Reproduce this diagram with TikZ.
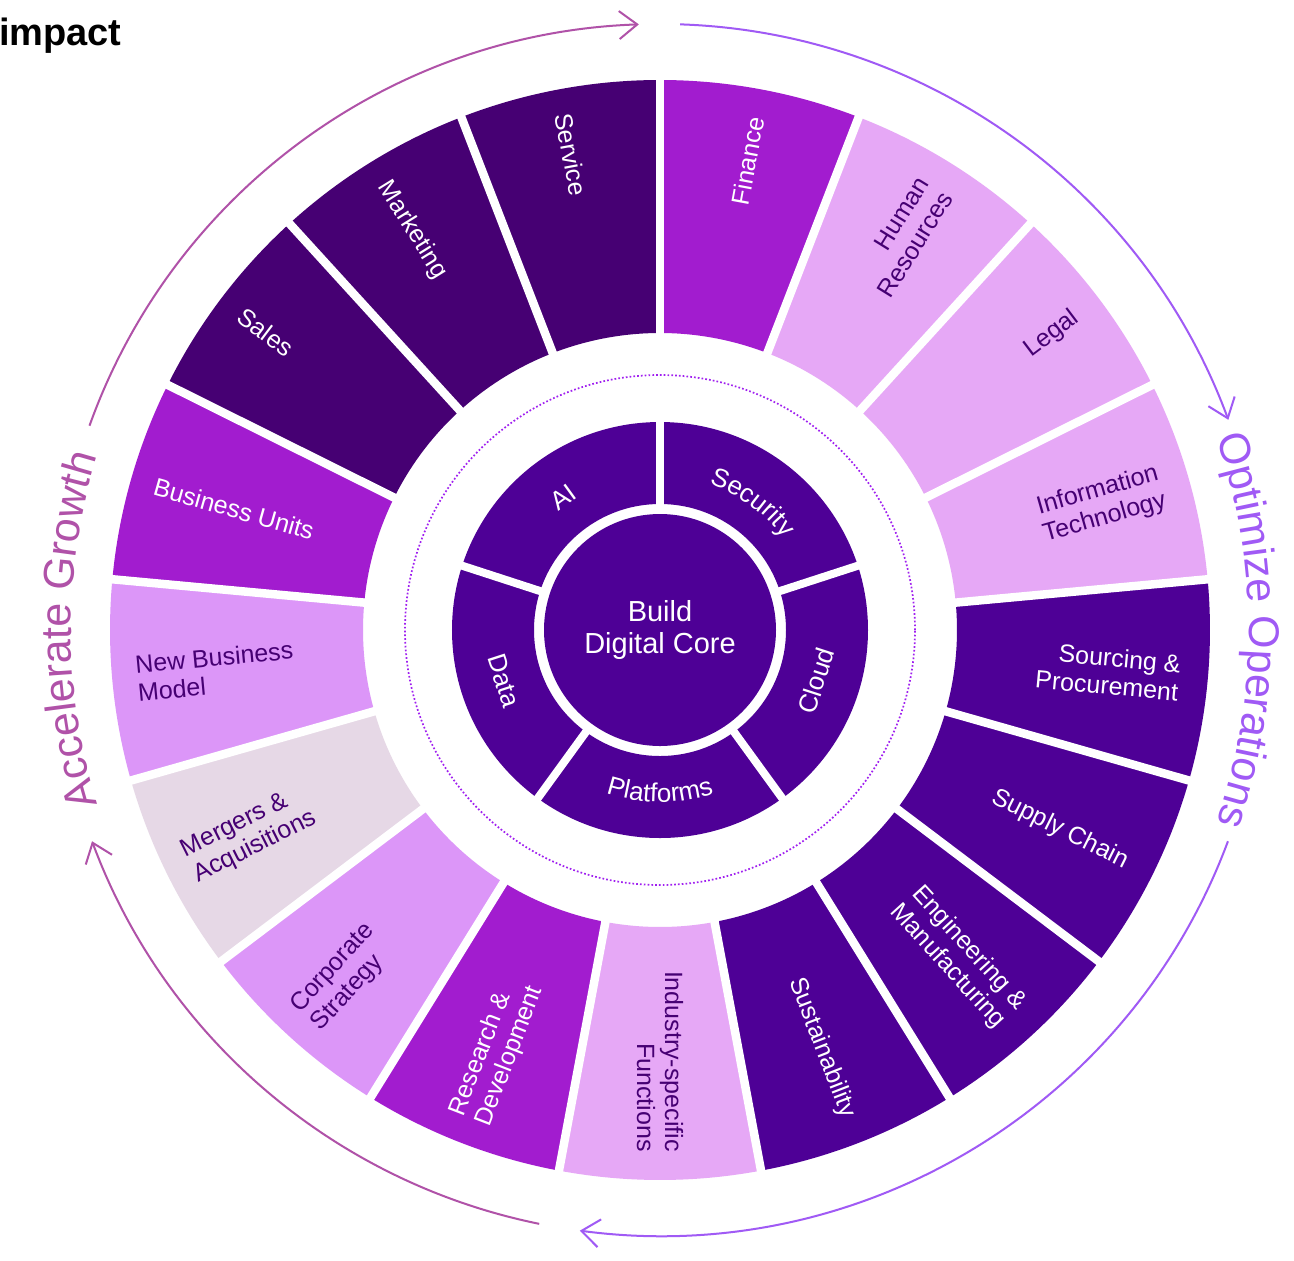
\documentclass[tikz,border=0pt]{standalone}
\usepackage{fontspec}
\setmainfont{Liberation Sans}
\usetikzlibrary{arrows.meta,decorations.text}

\definecolor{darkseg}{HTML}{460073}
\definecolor{magseg}{HTML}{A21CCF}
\definecolor{lightA}{HTML}{E6A8F6}
\definecolor{lightB}{HTML}{DC96F8}
\definecolor{greyseg}{HTML}{E6D8E6}
\definecolor{violetseg}{HTML}{4E0096}
\definecolor{txtdark}{HTML}{460073}
\definecolor{growthc}{HTML}{B052A8}
\definecolor{opsc}{HTML}{A05AF5}
\definecolor{dotc}{HTML}{A020F0}

\newcommand{\innerlblfont}{\fontsize{13}{15}\selectfont}
\newcommand{\titlelblfont}{\fontsize{21.5}{24}\selectfont}

\begin{document}
\begin{tikzpicture}[x=0.5pt,y=0.5pt,
  seglabel/.style={inner sep=0pt, font=\fontsize{12.5}{14}\selectfont},
  corelabel/.style={inner sep=0pt, text=white, font=\innerlblfont},
  divider/.style={white, line width=4.25pt},
  cyclearrow/.style={line width=1pt, -{Straight Barb[length=9pt,width=14pt]}},
]
\useasboundingbox (-660,-630) rectangle (634,630);
\fill[white] (-660,-630) rectangle (634,630);

% outer ring segments
\foreach \i/\fc in {0/magseg,1/lightA,2/lightA,3/lightA,4/violetseg,5/violetseg,6/violetseg,7/violetseg,8/lightA,9/magseg,10/lightB,11/greyseg,12/lightB,13/magseg,14/darkseg,15/darkseg,16/darkseg}{
  \pgfmathsetmacro\aone{90-\i*360/17}
  \pgfmathsetmacro\atwo{90-(\i+1)*360/17}
  \fill[\fc] (\aone:297) arc[start angle=\aone, end angle=\atwo, radius=297]
     -- (\atwo:550) arc[start angle=\atwo, end angle=\aone, radius=550] -- cycle;
}
\foreach \i in {0,...,16}{
  \pgfmathsetmacro\ad{90-\i*360/17}
  \draw[divider] (\ad:288) -- (\ad:560);
}

% outer labels
\foreach \i/\tc/\lab in {0/white/Finance, 1/txtdark/{Human\\Resources}, 2/txtdark/Legal,
  3/txtdark/{Information\\Technology}, 4/white/{Sourcing \&\\Procurement}, 5/white/{Supply Chain},
  6/white/{Engineering \&\\Manufacturing}, 7/white/Sustainability, 8/txtdark/{Industry-specific\\Functions},
  9/white/{Research \&\\Development}, 10/txtdark/{Corporate\\Strategy}, 11/txtdark/{Mergers \&\\Acquisitions},
  12/txtdark/{New Business\\Model}, 13/white/{Business Units}, 14/white/Sales, 15/white/Marketing, 16/white/Service}{
  \pgfmathsetmacro\amid{90-(\i+0.5)*360/17}
  \ifnum\i<9
    \node[seglabel, text=\tc, anchor=east, rotate=\amid, align=right] (seg\i) at (\amid:522) {\lab};
  \else
    \pgfmathsetmacro\rot{\amid+180}
    \node[seglabel, text=\tc, anchor=west, rotate=\rot, align=left] (seg\i) at (\amid:526) {\lab};
  \fi
}

% dotted circle
\draw[dotc, line width=0.85pt, dash pattern=on 0.85pt off 1.05pt] (0,0) circle[radius=255];

% inner ring
\fill[violetseg, even odd rule] (0,0) circle[radius=208] (0,0) circle[radius=126];
\foreach \a in {90,18,-54,-126,162}{
  \draw[divider, line width=4pt] (\a:118) -- (\a:215);
}
\node[circle, fill=violetseg, minimum size=116pt, inner sep=0pt, text=white, align=center,
  font=\fontsize{14.5}{16}\selectfont] (core) at (0,0) {Build\\Digital Core};

% inner labels
\node[corelabel, rotate=36] (ai) at (126:164) {AI};
\node[corelabel, rotate=72] (cloud) at (-18:164) {Cloud};
\node[corelabel, rotate=-72] (data) at (-162:164) {Data};
\path[decorate, decoration={text along path, text align=center, text={|\innerlblfont\color{white}|Security}}]
  (84:154) arc[start angle=84, end angle=24, radius=154];
\path[decorate, decoration={text along path, text align=center, text={|\innerlblfont\color{white}|Platforms}}]
  (-120:172) arc[start angle=-120, end angle=-60, radius=172];

% titles along the outer circle
\path[decorate, decoration={text along path, text align=center, text={|\titlelblfont\color{growthc}|Accelerate Growth}}]
  (215:589) arc[start angle=215, end angle=145, radius=589];
\path[decorate, decoration={text along path, text align=center, text={|\titlelblfont\color{opsc}|Optimize Operations}}]
  (35:589) arc[start angle=35, end angle=-35, radius=589];

% cycle arrows
\coordinate (g1s) at (160.3:606);
\coordinate (o1s) at (88.1:606);
\coordinate (o2s) at (-20.4:606);
\coordinate (g2s) at (258.5:606);
\draw[cyclearrow, growthc] (g1s) arc[start angle=160.3, end angle=92, radius=606];
\draw[cyclearrow, opsc] (o1s) arc[start angle=88.1, end angle=20.3, radius=606];
\draw[cyclearrow, opsc] (o2s) arc[start angle=-20.4, end angle=-97.6, radius=606];
\draw[cyclearrow, growthc] (g2s) arc[start angle=258.5, end angle=200.4, radius=606];

% heading fragment
\node[anchor=base east, inner sep=0pt, font=\fontsize{19}{22}\selectfont\bfseries] (heading) at (-538,585) {impact};
\end{tikzpicture}
\end{document}
